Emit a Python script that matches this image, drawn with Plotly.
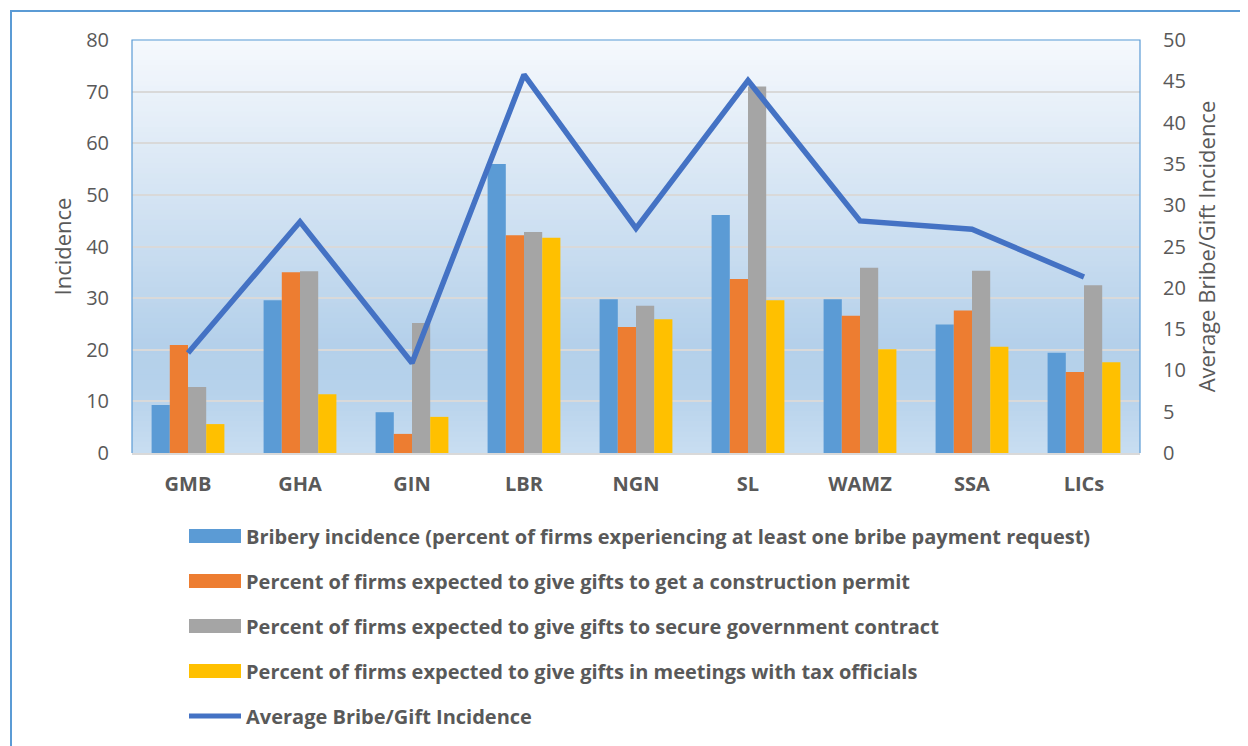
import plotly.graph_objects as go

categories = ["GMB", "GHA", "GIN", "LBR", "NGN", "SL", "WAMZ", "SSA", "LICs"]
bribery = [9.3, 29.6, 7.9, 56.0, 29.8, 46.1, 29.8, 24.9, 19.4]
construction = [20.9, 35.0, 3.7, 42.2, 24.4, 33.7, 26.6, 27.6, 15.7]
gov_contract = [12.8, 35.2, 25.2, 42.8, 28.5, 71.0, 35.9, 35.3, 32.5]
tax_officials = [5.6, 11.4, 7.0, 41.7, 25.9, 29.6, 20.1, 20.6, 17.6]
average = [12.1, 28.0, 10.9, 45.8, 27.2, 45.1, 28.1, 27.1, 21.3]

names = [
    "Bribery incidence (percent of firms experiencing at least one bribe payment request)",
    "Percent of firms expected to give gifts to get a construction permit",
    "Percent of firms expected to give gifts to secure government contract",
    "Percent of firms expected to give gifts in meetings with tax officials",
    "Average Bribe/Gift Incidence",
]
left_ticks = [0, 10, 20, 30, 40, 50, 60, 70, 80]
right_ticks = [0, 5, 10, 15, 20, 25, 30, 35, 40, 45, 50]

colors = ["#5b9bd5", "#ed7d31", "#a5a5a5", "#ffc000"]
line_color = "#4472c4"
txt = "#595959"
FONT = "Open Sans"

OFF = 8  # page offset of the figure inside the browser window
W, H = 1248, 746
L, R, T, B = 132 - OFF, 1140 - OFF, 40 - OFF, 453 - OFF
pw, ph = R - L, B - T

def px_x(x):
    return (x - OFF - L) / pw

def px_y(y):
    return (B - (y - OFF)) / ph

fig = go.Figure()
for name, vals, c in zip(names[:4], [bribery, construction, gov_contract, tax_officials], colors):
    fig.add_trace(go.Bar(x=categories, y=vals, name=name, marker=dict(color=c, line=dict(width=0)),
                         showlegend=False))
fig.add_trace(go.Scatter(x=categories, y=average, name=names[4], mode="lines", yaxis="y2",
                         line=dict(color=line_color, width=5.5), showlegend=False))

shapes = []

def lerp(a, b, t):
    return tuple(a[i] + (b[i] - a[i]) * t for i in range(3))

stops = [(0.0, (246, 249, 253)), (0.74, (180, 208, 234)), (0.85, (182, 210, 235)), (1.0, (200, 221, 241))]
N = 80
for i in range(N):
    t = (i + 0.5) / N
    for j in range(len(stops) - 1):
        if stops[j][0] <= t <= stops[j + 1][0]:
            tt = (t - stops[j][0]) / (stops[j + 1][0] - stops[j][0])
            col = lerp(stops[j][1], stops[j + 1][1], tt)
            break
    y1 = 1 - i / N
    y0 = 1 - (i + 1) / N
    shapes.append(dict(type="rect", xref="x domain", yref="y domain", x0=0, x1=1, y0=y0, y1=y1 + 0.002,
                       fillcolor="rgb(%d,%d,%d)" % tuple(int(round(v)) for v in col),
                       line=dict(width=0), layer="below"))
shapes.append(dict(type="path", xref="paper", yref="paper",
                   path="M 0,0 L 0,1 L 1,1 L 1,0", line=dict(color="#5b9bd5", width=1.2)))
shapes.append(dict(type="rect", xref="paper", yref="paper",
                   x0=px_x(11), x1=px_x(1262), y0=px_y(760), y1=px_y(11),
                   line=dict(color="#5b9bd5", width=2), fillcolor="rgba(0,0,0,0)"))

annotations = []
leg_y = [536, 581, 626, 671, 716]
for k in range(5):
    yy = leg_y[k]
    if k < 4:
        shapes.append(dict(type="rect", xref="paper", yref="paper",
                           x0=px_x(189), x1=px_x(241), y0=px_y(yy + 7), y1=px_y(yy - 7),
                           fillcolor=colors[k], line=dict(width=0)))
    else:
        shapes.append(dict(type="line", xref="paper", yref="paper",
                           x0=px_x(189), x1=px_x(241), y0=px_y(yy), y1=px_y(yy),
                           line=dict(color=line_color, width=5)))
    annotations.append(dict(xref="paper", yref="paper", x=px_x(244), y=px_y(yy), text="<b>%s</b>" % names[k],
                            showarrow=False, xanchor="left", yanchor="middle",
                            font=dict(family=FONT, size=20, color=txt)))

fig.update_layout(
    width=W, height=H,
    margin=dict(l=L, r=W - R, t=T, b=H - B, pad=0),
    paper_bgcolor="white", plot_bgcolor="rgba(0,0,0,0)",
    barmode="group", bargap=0.35, bargroupgap=0,
    font=dict(family=FONT, color=txt),
    shapes=shapes, annotations=annotations,
    xaxis=dict(tickfont=dict(family=FONT, size=20, color=txt), showline=True, linecolor="#d9d9d9",
               linewidth=2, ticks="", ticklabelstandoff=12, tickprefix="<b>", ticksuffix="</b>"),
    yaxis=dict(range=[0, 80], tickvals=left_ticks, showgrid=True, gridcolor="#d9d9d9", gridwidth=1.5,
               zeroline=False, tickfont=dict(family=FONT, size=20, color=txt), ticks="",
               ticklabelstandoff=22,
               title=dict(text="Incidence", font=dict(family=FONT, size=22, color=txt), standoff=8)),
    yaxis2=dict(range=[0, 50], tickvals=right_ticks, overlaying="y", side="right", showgrid=False,
                zeroline=False, tickfont=dict(family=FONT, size=20, color=txt), ticks="",
                ticklabelstandoff=22,
                title=dict(text="Average Bribe/Gift Incidence", font=dict(family=FONT, size=22, color=txt),
                           standoff=14)),
)

fig.write_html("out.html")
